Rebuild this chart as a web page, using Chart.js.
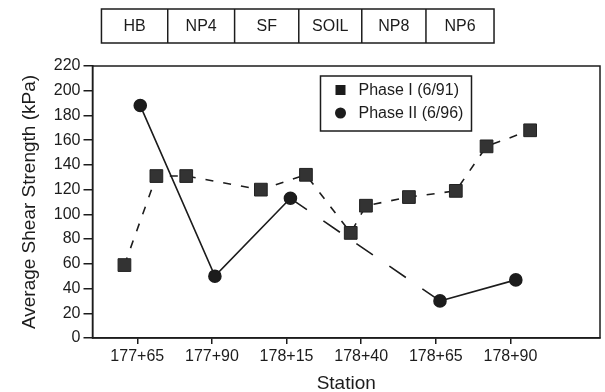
<!DOCTYPE html>
<html>
<head>
<meta charset="utf-8">
<script src="https://cdn.jsdelivr.net/npm/chart.js@4.4.1/dist/chart.umd.min.js"></script>
<style>
  html, body { margin: 0; padding: 0; background: #fff; }
  #wrap { width: 605px; height: 392px; }
</style>
</head>
<body>
<div id="wrap"><canvas id="myChart" width="605" height="392"></canvas></div>
<script>
// station in metres, e.g. 177+65 -> 17765
const phase1Stations = [17760.7, 17771.4, 17781.4, 17806.4, 17821.5, 17836.5, 17841.6, 17856, 17871.7, 17882, 17896.6];
const phase1Values   = [59, 131, 131, 120, 132, 85, 107, 114, 119, 155, 168];
const phase2Stations = [17766, 17791, 17816.3, 17866.4, 17891.8];
const phase2Values   = [188, 50, 113, 30, 47];

const tickStations = [17765, 17790, 17815, 17840, 17865, 17890];
const tickLabels   = ["177+65", "177+90", "178+15", "178+40", "178+65", "178+90"];

const zoneNames  = ["HB", "NP4", "SF", "SOIL", "NP8", "NP6"];
const zoneBounds = [17753, 17775.2, 17797.6, 17819.1, 17840.2, 17861.7, 17884.5];

const FONT = "'Liberation Sans', Arial, sans-serif";
const INK = "#1c1c1c";

const toXY = (xs, ys) => xs.map((x, i) => ({ x: x, y: ys[i] }));

const framePlugin = {
  id: "frame",
  afterDraw(chart) {
    const { ctx, chartArea: a, scales } = chart;
    ctx.save();
    ctx.strokeStyle = INK;
    ctx.lineWidth = 1.5;
    ctx.strokeRect(a.left, a.top, a.right - a.left, a.bottom - a.top);

    // zone strip above the plot
    const top = 9, h = 34;
    const x0 = scales.x.getPixelForValue(zoneBounds[0]);
    const x1 = scales.x.getPixelForValue(zoneBounds[zoneBounds.length - 1]);
    ctx.strokeRect(x0, top, x1 - x0, h);
    ctx.font = "16px " + FONT;
    ctx.fillStyle = INK;
    ctx.textAlign = "center";
    ctx.textBaseline = "middle";
    for (let i = 0; i < zoneNames.length; i++) {
      const l = scales.x.getPixelForValue(zoneBounds[i]);
      const r = scales.x.getPixelForValue(zoneBounds[i + 1]);
      if (i > 0) {
        ctx.beginPath(); ctx.moveTo(l, top); ctx.lineTo(l, top + h); ctx.stroke();
      }
      ctx.fillText(zoneNames[i], (l + r) / 2, top + h / 2 + 1);
    }

    // legend box inside the plot
    const lx = a.left + 228, ly = a.top + 10, lw = 151, lh = 55;
    ctx.fillStyle = "#fff";
    ctx.fillRect(lx, ly, lw, lh);
    ctx.strokeRect(lx, ly, lw, lh);
    ctx.font = "16px " + FONT;
    ctx.textAlign = "left";
    chart.data.datasets.forEach((ds, i) => {
      const cy = ly + 14 + i * 23;
      ctx.fillStyle = INK;
      if (ds.pointStyle === "rect") {
        ctx.fillRect(lx + 15, cy - 5, 10, 10);
      } else {
        ctx.beginPath(); ctx.arc(lx + 20, cy, 5.5, 0, Math.PI * 2); ctx.fill();
      }
      ctx.fillText(ds.label, lx + 38, cy + 1);
    });
    ctx.restore();
  }
};

new Chart("myChart", {
  type: "line",
  data: {
    datasets: [{
      label: "Phase I (6/91)",
      data: toXY(phase1Stations, phase1Values),
      borderColor: INK,
      borderWidth: 1.6,
      borderDash: [8, 10],
      pointStyle: "rect",
      pointRadius: 9,
      pointBackgroundColor: "#333",
      pointBorderColor: "#222",
      pointBorderWidth: 1,
      tension: 0
    }, {
      label: "Phase II (6/96)",
      data: toXY(phase2Stations, phase2Values),
      borderColor: INK,
      borderWidth: 1.6,
      pointStyle: "circle",
      pointRadius: 6,
      pointBackgroundColor: INK,
      pointBorderColor: INK,
      tension: 0,
      segment: {
        borderDash: c => c.p0DataIndex === 2 ? [20, 20] : undefined
      }
    }]
  },
  options: {
    responsive: false,
    animation: false,
    layout: { autoPadding: false, padding: { top: 66, right: 5, left: 18, bottom: -3 } },
    plugins: { legend: { display: false }, tooltip: { enabled: false } },
    scales: {
      x: {
        type: "linear",
        min: 17750,
        max: 17920,
        afterBuildTicks: s => { s.ticks = tickStations.map(v => ({ value: v })); },
        ticks: {
          callback: v => tickLabels[tickStations.indexOf(v)],
          color: INK,
          font: { family: FONT, size: 16 },
          maxRotation: 0,
          autoSkip: false,
          padding: 3
        },
        grid: { drawOnChartArea: false, color: INK, tickLength: 6, lineWidth: 1.5 },
        border: { color: INK, width: 1.5 },
        title: { display: true, text: "Station", color: INK, font: { family: FONT, size: 19 }, padding: { top: 3, bottom: 0 } }
      },
      y: {
        min: 0,
        max: 220,
        ticks: {
          stepSize: 20,
          color: INK,
          font: { family: FONT, size: 16 },
          padding: 3
        },
        grid: { drawOnChartArea: false, color: INK, tickLength: 9, lineWidth: 1.5 },
        border: { color: INK, width: 1.5 },
        title: { display: true, text: "Average Shear Strength (kPa)", color: INK, font: { family: FONT, size: 19 }, padding: { top: 0, bottom: 10 } }
      }
    }
  },
  plugins: [framePlugin]
});
</script>
</body>
</html>
